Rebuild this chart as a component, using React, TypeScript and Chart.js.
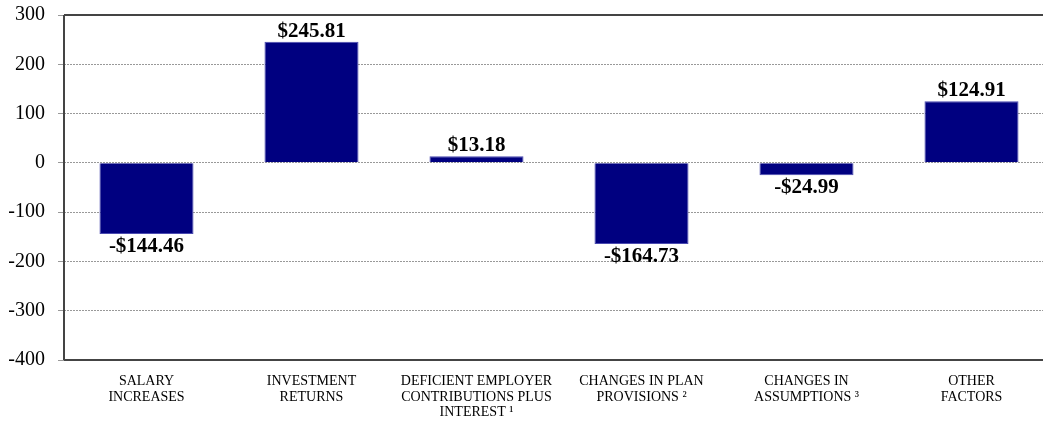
import React, { useEffect, useRef } from "react";
import { Chart, registerables } from "chart.js";

Chart.register(...registerables);

const categories: string[][] = [
  ["SALARY", "INCREASES"],
  ["INVESTMENT", "RETURNS"],
  ["DEFICIENT EMPLOYER", "CONTRIBUTIONS PLUS", "INTEREST ¹"],
  ["CHANGES IN PLAN", "PROVISIONS ²"],
  ["CHANGES IN", "ASSUMPTIONS ³"],
  ["OTHER", "FACTORS"],
];
const values: number[] = [-144.46, 245.81, 13.18, -164.73, -24.99, 124.91];
const valueLabels: string[] = ["-$144.46", "$245.81", "$13.18", "-$164.73", "-$24.99", "$124.91"];
const yTicks: number[] = [300, 200, 100, 0, -100, -200, -300, -400];

const FONT = "'Liberation Serif', 'Times New Roman', serif";

const labelPlugin = {
  id: "valueLabels",
  afterDatasetsDraw(chart: any) {
    const ctx = chart.ctx;
    const meta = chart.getDatasetMeta(0);
    ctx.save();
    ctx.font = `bold 21px ${FONT}`;
    ctx.fillStyle = "#000";
    ctx.textAlign = "center";
    meta.data.forEach((bar: any, i: number) => {
      const v = values[i];
      if (v >= 0) {
        ctx.textBaseline = "bottom";
        ctx.fillText(valueLabels[i], bar.x, bar.y);
      } else {
        ctx.textBaseline = "top";
        ctx.fillText(valueLabels[i], bar.x, bar.y + 2);
      }
    });
    ctx.restore();
  },
  afterDraw(chart: any) {
    const { ctx, chartArea } = chart;
    ctx.save();
    ctx.strokeStyle = "#444";
    ctx.lineWidth = 2;
    ctx.beginPath();
    ctx.moveTo(chartArea.left, chartArea.top);
    ctx.lineTo(chartArea.right, chartArea.top);
    ctx.moveTo(chartArea.left, chartArea.bottom);
    ctx.lineTo(chartArea.right, chartArea.bottom);
    ctx.moveTo(chartArea.left, chartArea.top);
    ctx.lineTo(chartArea.left, chartArea.bottom);
    ctx.stroke();
    ctx.restore();
  },
};

export default function App() {
  const ref = useRef<HTMLCanvasElement>(null);
  useEffect(() => {
    document.body.style.margin = "0";
    const chart = new Chart(ref.current!, {
      type: "bar",
      data: {
        labels: categories,
        datasets: [
          {
            data: values,
            backgroundColor: "#000080",
            borderColor: "#4a4ab0",
            borderWidth: 1,
            barPercentage: 0.57,
            categoryPercentage: 1,
          },
        ],
      },
      options: {
        animation: false,
        responsive: false,
        layout: { padding: { top: 15, right: 0, left: 0, bottom: 0 } },
        plugins: { legend: { display: false }, tooltip: { enabled: false } },
        scales: {
          x: {
            grid: { display: false },
            border: { display: false },
            ticks: {
              color: "#000",
              font: { family: FONT, size: 14, lineHeight: 1.1 },
              maxRotation: 0,
              autoSkip: false,
              padding: 6,
            },
            afterFit(scale: any) {
              scale.height = 63;
              scale.paddingTop = 0;
            },
          },
          y: {
            min: -400,
            max: 300,
            afterBuildTicks(scale: any) {
              scale.ticks = yTicks.map((v) => ({ value: v }));
            },
            grid: {
              color: "#999",
              lineWidth: 1,
              tickLength: 6,
            },
            border: { display: false, dash: [2, 1] },
            ticks: {
              color: "#000",
              font: { family: FONT, size: 20 },
              padding: 13,
            },
            afterFit(scale: any) {
              scale.width = 64;
              scale.paddingTop = 0;
              scale.paddingBottom = 0;
            },
          },
        },
      },
      plugins: [labelPlugin],
    });
    return () => chart.destroy();
  }, []);
  return (
    <div style={{ position: "absolute", left: 0, top: 0, width: 1043, height: 423, overflow: "hidden" }}>
      <canvas ref={ref} width={1054} height={423} style={{ width: 1054, height: 423 }} />
    </div>
  );
}
